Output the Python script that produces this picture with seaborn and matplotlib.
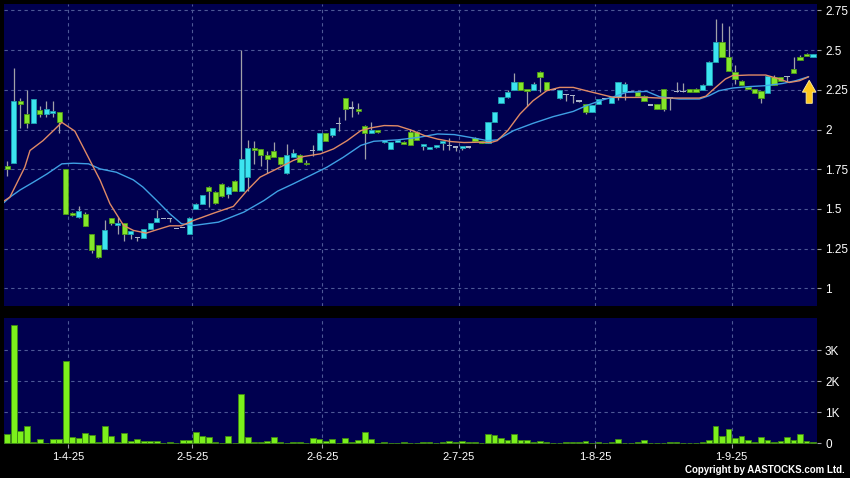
import matplotlib

matplotlib.use("Agg")
import matplotlib.pyplot as plt
import numpy as np
import seaborn as sns

# daily candles, one entry per trading day (index 0 = mid March 2025)
opens = [1.77, 1.79, 2.18, 2.10, 2.04, 2.12, 2.10, 2.105, 2.11, 1.75,
         1.47, 1.45, 1.47, 1.34, 1.27, 1.25, 1.44, 1.40, 1.41, 1.345,
         1.32, 1.32, 1.375, 1.42, 1.44, 1.44, 1.375, 1.385, 1.345, 1.497,
         1.53, 1.64, 1.605, 1.66, 1.595, 1.675, 1.61, 1.70, 1.875, 1.88,
         1.84, 1.865, 1.83, 1.725, 1.825, 1.84, 1.79, 1.87, 1.87, 1.975,
         1.965, 2.04, 2.20, 2.135, 2.13, 2.025, 1.98, 1.997, 1.92, 1.878,
         1.92, 1.924, 1.983, 1.983, 1.895, 1.88, 1.89, 1.918, 1.90, 1.89,
         1.884, 1.89, 1.948, 1.926, 1.913, 2.05, 2.167, 2.202, 2.25, 2.30,
         2.245, 2.25, 2.365, 2.297, 2.25, 2.198, 2.222, 2.215, 2.18, 2.16,
         2.112, 2.16, 2.195, 2.17, 2.206, 2.238, 2.24, 2.234, 2.213, 2.155,
         2.16, 2.255, 2.20, 2.238, 2.238, 2.253, 2.255, 2.25, 2.282, 2.426,
         2.548, 2.458, 2.36, 2.307, 2.27, 2.253, 2.244, 2.23, 2.328, 2.328,
         2.335, 2.38, 2.454, 2.475, 2.455]
highs = [1.80, 2.39, 2.20, 2.25, 2.19, 2.15, 2.18, 2.18, 2.11, 1.75,
         1.48, 1.52, 1.48, 1.34, 1.27, 1.43, 1.44, 1.45, 1.41, 1.36,
         1.325, 1.375, 1.41, 1.495, 1.44, 1.44, 1.375, 1.385, 1.448, 1.535,
         1.59, 1.645, 1.61, 1.665, 1.645, 1.68, 2.50, 1.935, 1.93, 1.88,
         1.867, 1.92, 1.83, 1.91, 1.88, 1.845, 1.81, 1.90, 1.98, 1.975,
         2.01, 2.076, 2.20, 2.18, 2.17, 2.03, 2.05, 2.00, 1.93, 1.92,
         1.935, 1.93, 2.004, 1.99, 1.91, 1.89, 1.905, 1.93, 1.948, 1.895,
         1.897, 1.895, 1.95, 1.93, 2.045, 2.112, 2.206, 2.25, 2.356, 2.30,
         2.25, 2.30, 2.37, 2.30, 2.25, 2.25, 2.225, 2.22, 2.186, 2.16,
         2.156, 2.19, 2.195, 2.202, 2.297, 2.30, 2.24, 2.24, 2.215, 2.155,
         2.16, 2.255, 2.20, 2.30, 2.29, 2.255, 2.26, 2.285, 2.43, 2.695,
         2.673, 2.65, 2.408, 2.31, 2.27, 2.255, 2.244, 2.34, 2.345, 2.33,
         2.34, 2.454, 2.47, 2.48, 2.475]
lows = [1.71, 1.79, 2.01, 2.01, 2.04, 2.08, 2.08, 2.08, 1.98, 1.47,
        1.455, 1.445, 1.39, 1.22, 1.19, 1.25, 1.40, 1.345, 1.30, 1.31,
        1.30, 1.32, 1.375, 1.42, 1.44, 1.42, 1.375, 1.385, 1.34, 1.497,
        1.53, 1.51, 1.53, 1.575, 1.57, 1.61, 1.61, 1.616, 1.785, 1.77,
        1.725, 1.83, 1.778, 1.72, 1.825, 1.795, 1.778, 1.835, 1.87, 1.93,
        1.955, 1.993, 2.06, 2.077, 2.10, 1.815, 1.98, 1.98, 1.918, 1.878,
        1.92, 1.91, 1.904, 1.935, 1.872, 1.875, 1.885, 1.872, 1.868, 1.863,
        1.87, 1.885, 1.93, 1.913, 1.913, 2.05, 2.167, 2.20, 2.25, 2.25,
        2.146, 2.25, 2.235, 2.25, 2.25, 2.19, 2.18, 2.165, 2.175, 2.098,
        2.112, 2.16, 2.195, 2.17, 2.188, 2.188, 2.24, 2.206, 2.177, 2.155,
        2.129, 2.119, 2.12, 2.238, 2.238, 2.238, 2.236, 2.25, 2.28, 2.426,
        2.458, 2.366, 2.286, 2.282, 2.253, 2.227, 2.165, 2.23, 2.282, 2.303,
        2.30, 2.355, 2.437, 2.46, 2.454]
closes = [1.75, 2.18, 2.16, 2.04, 2.19, 2.10, 2.13, 2.115, 2.05, 1.47,
          1.46, 1.49, 1.39, 1.24, 1.20, 1.37, 1.41, 1.41, 1.345, 1.36,
          1.32, 1.375, 1.41, 1.445, 1.44, 1.44, 1.375, 1.385, 1.445, 1.532,
          1.59, 1.61, 1.54, 1.58, 1.64, 1.61, 1.815, 1.885, 1.87, 1.84,
          1.815, 1.83, 1.78, 1.84, 1.855, 1.795, 1.78, 1.87, 1.98, 1.93,
          2.01, 2.04, 2.13, 2.135, 2.115, 1.98, 1.995, 1.983, 1.93, 1.92,
          1.93, 1.91, 1.904, 1.935, 1.91, 1.89, 1.905, 1.93, 1.90, 1.89,
          1.897, 1.89, 1.93, 1.913, 2.045, 2.11, 2.205, 2.238, 2.30, 2.25,
          2.24, 2.285, 2.332, 2.25, 2.25, 2.249, 2.22, 2.215, 2.18, 2.112,
          2.156, 2.19, 2.195, 2.202, 2.297, 2.286, 2.24, 2.208, 2.177, 2.155,
          2.13, 2.13, 2.20, 2.238, 2.238, 2.238, 2.236, 2.282, 2.426, 2.548,
          2.458, 2.366, 2.318, 2.282, 2.253, 2.227, 2.198, 2.334, 2.282, 2.303,
          2.335, 2.355, 2.437, 2.46, 2.475]
volume_k = [0.30, 3.82, 0.41, 0.56, 0.05, 0.14, 0.02, 0.13, 0.15, 2.66,
            0.20, 0.17, 0.32, 0.26, 0.05, 0.55, 0.25, 0.06, 0.33, 0.09,
            0.15, 0.09, 0.09, 0.07, 0.01, 0.04, 0.01, 0.11, 0.11, 0.36,
            0.24, 0.20, 0.06, 0.01, 0.24, 0.01, 1.58, 0.20, 0.05, 0.05,
            0.09, 0.20, 0.04, 0.01, 0.05, 0.05, 0.02, 0.17, 0.15, 0.09,
            0.13, 0.02, 0.17, 0.03, 0.11, 0.37, 0.13, 0.01, 0.04, 0.01,
            0.01, 0.04, 0.01, 0.01, 0.03, 0.04, 0.02, 0.04, 0.09, 0.03,
            0.09, 0.03, 0.03, 0.01, 0.30, 0.26, 0.17, 0.12, 0.31, 0.11,
            0.11, 0.03, 0.08, 0.05, 0.01, 0.01, 0.06, 0.06, 0.06, 0.08,
            0.01, 0.03, 0.01, 0.06, 0.15, 0.01, 0.01, 0.03, 0.11, 0.01,
            0.01, 0.01, 0.06, 0.04, 0.01, 0.02, 0.01, 0.04, 0.11, 0.55,
            0.24, 0.46, 0.16, 0.24, 0.10, 0.03, 0.19, 0.12, 0.05, 0.09,
            0.20, 0.10, 0.29, 0.08, 0.05]

# moving averages (position in trading days, price)
ma_fast_pos = [-0.5, 0.4, 2.7, 3.5, 5.5, 7.1, 8.4, 10.4, 12.2, 14.3,
               15.8, 17.9, 19.4, 21.4, 23, 25, 26.8, 28.7, 31.8, 34.8,
               36.9, 38.9, 42, 44, 45.6, 48.2, 50.2, 52.3, 54.4, 55.9,
               58, 60.1, 62.1, 64.2, 66.2, 68.3, 70.3, 72.4, 74.4, 75.4,
               77, 78.9, 80.9, 83, 85, 87.1, 89.1, 91.2, 93.3, 95.3,
               98.4, 100.4, 103.4, 106.5, 107.5, 109, 110.5, 111.6, 114.1, 116.7,
               118.8, 120.3, 121.9, 123.3]
ma_fast_val = [1.55, 1.574, 1.763, 1.868, 1.93, 1.993, 2.045, 1.99, 1.847, 1.68,
               1.533, 1.396, 1.365, 1.348, 1.369, 1.394, 1.394, 1.428, 1.474, 1.516,
               1.616, 1.70, 1.763, 1.805, 1.83, 1.847, 1.878, 1.93, 1.993, 2.01,
               2.025, 2.023, 1.997, 1.962, 1.94, 1.924, 1.918, 1.92, 1.918, 1.93,
               1.993, 2.098, 2.181, 2.244, 2.265, 2.265, 2.244, 2.223, 2.202, 2.202,
               2.202, 2.198, 2.198, 2.198, 2.21, 2.265, 2.318, 2.339, 2.343, 2.343,
               2.318, 2.296, 2.307, 2.332]
ma_slow_pos = [-0.5, 0.4, 2, 4, 6.1, 8.4, 10.2, 12.5, 14.3, 16.8,
               19.4, 20.9, 23, 25, 26.8, 28.7, 32.5, 36.4, 39.5, 41.6,
               44, 46.6, 49.2, 51.7, 54.4, 56.4, 60.1, 63.2, 66.2, 68.8,
               71.3, 73.9, 75.4, 77.9, 80.9, 84, 87.1, 89.1, 91.2, 93.3,
               95.3, 98.4, 100.4, 103.4, 106.5, 108, 109.5, 111.6, 114.1, 116.7,
               119.3, 121.3, 123.3]
ma_slow_val = [1.54, 1.574, 1.62, 1.668, 1.72, 1.784, 1.788, 1.784, 1.752, 1.731,
               1.683, 1.637, 1.553, 1.47, 1.407, 1.396, 1.417, 1.48, 1.553, 1.612,
               1.658, 1.71, 1.763, 1.825, 1.90, 1.926, 1.935, 1.95, 1.972, 1.968,
               1.95, 1.93, 1.935, 1.993, 2.039, 2.081, 2.114, 2.15, 2.181, 2.206,
               2.234, 2.24, 2.206, 2.192, 2.192, 2.213, 2.244, 2.261, 2.27, 2.276,
               2.29, 2.307, 2.332]

date_pos = [9.4, 28.5, 48.5, 69.5, 90.5, 111.45]
date_labels = ["1-4-25", "2-5-25", "2-6-25", "2-7-25", "1-8-25", "1-9-25"]
price_ticks = [1, 1.25, 1.5, 1.75, 2, 2.25, 2.5, 2.75]
vol_ticks = [0, 1, 2, 3]
vol_tick_labels = ["0", "1K", "2K", "3K"]

# latest-signal marker
arrow_pos = 123.4
arrow_base = 2.165
arrow_tip = 2.31

NAVY = "#00004f"
UP = "#3ce4f0"
UP_EDGE = "#1e9fb0"
DOWN = "#84e62a"
DOWN_EDGE = "#4f9a17"
DOJI = "#a9b2c8"
WICK = "#a0a0a8"
GRID = "#4d5896"

sns.set_style("dark", {"axes.facecolor": NAVY, "figure.facecolor": "black"})
plt.rcParams["font.family"] = ["Liberation Sans", "DejaVu Sans"]

fig = plt.figure(figsize=(8.5, 4.78), dpi=100)
fig.patch.set_facecolor("black")
ax = fig.add_axes([0.0047, 0.3598, 0.9561, 0.6318])
axv = fig.add_axes([0.0047, 0.0711, 0.9561, 0.2630])

o = np.array(opens)
h = np.array(highs)
l = np.array(lows)
c = np.array(closes)
idx = np.arange(len(o))

up = c > o + 0.003
down = c < o - 0.003
doji = ~(up | down)

# wicks
ax.vlines(idx, l, h, color=WICK, linewidth=0.9, zorder=2)

# bodies
body_w = 0.82
lo = np.minimum(o, c)
ht = np.maximum(np.abs(c - o), 0.012)
ax.bar(idx[up], ht[up], bottom=lo[up], width=body_w, color=UP,
       edgecolor=UP_EDGE, linewidth=0.6, zorder=3)
ax.bar(idx[down], ht[down], bottom=lo[down], width=body_w, color=DOWN,
       edgecolor=DOWN_EDGE, linewidth=0.6, zorder=3)
ax.bar(idx[doji], np.full(doji.sum(), 0.008), bottom=lo[doji] - 0.004,
       width=body_w, color=DOJI, linewidth=0, zorder=3)

sns.lineplot(x=ma_slow_pos, y=ma_slow_val, ax=ax, color="#3fa0e4",
             linewidth=1.0, zorder=4)
sns.lineplot(x=ma_fast_pos, y=ma_fast_val, ax=ax, color="#e08a66",
             linewidth=1.0, zorder=4)

ax.arrow(arrow_pos, arrow_base, 0, arrow_tip - arrow_base, width=0.95,
         head_width=2.1, head_length=0.075, length_includes_head=True,
         fc="#ffc81e", ec="#fff0a0", linewidth=0.6, zorder=6)

# volume
sns.barplot(x=idx, y=volume_k, native_scale=True, ax=axv, color="#7cf01c",
            saturation=1, width=0.87, errorbar=None, edgecolor="#3f8a12",
            linewidth=0.6, zorder=3)

for a in (ax, axv):
    a.set_facecolor(NAVY)
    a.set_xlim(-0.5, 124.55)
    for s in a.spines.values():
        s.set_visible(False)
    a.yaxis.tick_right()
    a.set_xticks(date_pos)
    a.grid(True, color=GRID, linestyle=(0, (3, 3)), linewidth=0.8)
    a.set_xlabel("")
    a.set_ylabel("")
    a.tick_params(axis="y", colors=WICK, labelcolor="white", labelsize=8.5,
                  length=3, width=0.8, pad=3, right=True, left=False)

ax.set_ylim(0.889, 2.79)
ax.set_yticks(price_ticks)
ax.set_yticklabels([f"{t:g}" for t in price_ticks])
ax.tick_params(axis="x", bottom=False, labelbottom=False)

axv.set_ylim(-0.02, 4.03)
axv.set_yticks(vol_ticks)
axv.set_yticklabels(vol_tick_labels)
axv.yaxis.get_gridlines()[0].set_visible(False)
axv.set_xticklabels(date_labels)
axv.tick_params(axis="x", colors=WICK, labelcolor="white", labelsize=8,
                length=3, width=0.8, pad=3, bottom=True)

fig.text(0.994, 0.016, "Copyright by AASTOCKS.com Ltd.", ha="right",
         va="center", color="white", fontsize=7, fontweight="bold")

fig.savefig("out.png", dpi=100, facecolor="black")
